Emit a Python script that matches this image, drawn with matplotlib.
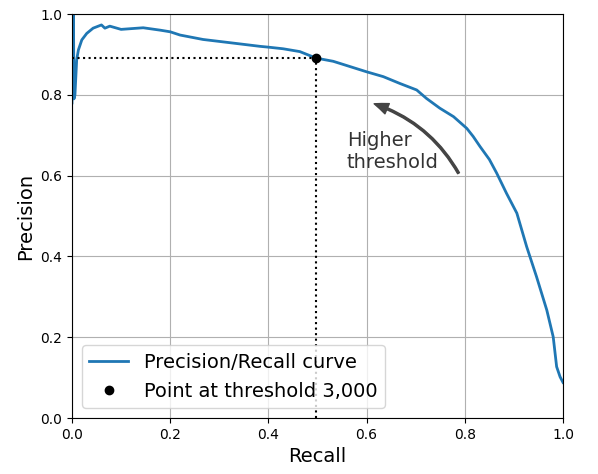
import matplotlib
matplotlib.use("Agg")
import matplotlib.pyplot as plt
import matplotlib.patches as patches

# precision/recall curve
recalls = [0.000, 0.003, 0.004, 0.006, 0.0095, 0.013, 0.020, 0.030, 0.043, 0.060,
           0.067, 0.077, 0.100, 0.145, 0.180, 0.200, 0.220, 0.267, 0.315, 0.383,
           0.400, 0.430, 0.464, 0.497, 0.532, 0.566, 0.600, 0.634, 0.668, 0.702,
           0.722, 0.749, 0.777, 0.804, 0.817, 0.831, 0.850, 0.865, 0.885, 0.906,
           0.926, 0.946, 0.967, 0.980, 0.987, 0.994, 1.000]
precisions = [0.78, 1.00, 0.79, 0.80, 0.886, 0.911, 0.936, 0.952, 0.965, 0.973,
              0.965, 0.970, 0.962, 0.966, 0.960, 0.956, 0.948, 0.937, 0.930, 0.920,
              0.918, 0.914, 0.907, 0.891, 0.883, 0.870, 0.857, 0.845, 0.828, 0.812,
              0.791, 0.767, 0.746, 0.717, 0.697, 0.672, 0.640, 0.606, 0.556, 0.507,
              0.424, 0.350, 0.267, 0.201, 0.127, 0.102, 0.088]

threshold_recall = 0.497
threshold_precision = 0.891

plt.rc('font', size=14)
plt.rc('xtick', labelsize=10)
plt.rc('ytick', labelsize=10)

fig = plt.figure(figsize=(5.98, 4.74), dpi=100)
ax = fig.add_axes([0.1204, 0.1181, 0.8211, 0.8523])

ax.plot(recalls, precisions, linewidth=2, label="Precision/Recall curve")
ax.plot([0.0, threshold_recall], [threshold_precision, threshold_precision], "k:")
ax.plot([threshold_recall, threshold_recall], [0.0, threshold_precision], "k:")
ax.plot([threshold_recall], [threshold_precision], "ko", label="Point at threshold 3,000")

ax.add_patch(patches.FancyArrowPatch(
    (0.79, 0.60), (0.61, 0.78),
    connectionstyle="arc3,rad=.2",
    arrowstyle="Simple, tail_width=1.5, head_width=8, head_length=10",
    color="#444444"))
ax.text(0.56, 0.62, "Higher\nthreshold", color="#333333")

ax.set_xlabel("Recall")
ax.set_ylabel("Precision")
ax.axis([0, 1, 0, 1])
ax.grid()
ax.legend(loc="lower left")

fig.savefig("out.png", dpi=100)
